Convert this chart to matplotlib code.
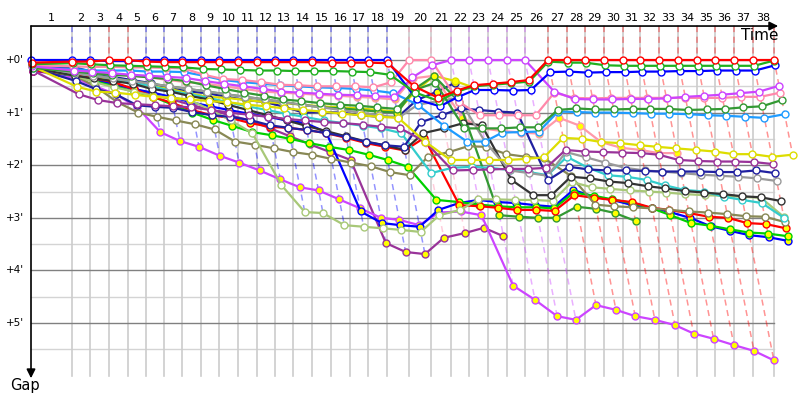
import numpy as np
import matplotlib.pyplot as plt

# leader's cumulative race time at the end of each lap (minutes), index 0 = start
leader_time = [0.00, 3.98, 5.73, 7.57, 9.42, 11.17, 12.91, 14.66, 16.50, 18.25,
               20.10, 21.94, 23.69, 25.44, 27.28, 29.13, 30.97, 32.72, 34.56, 36.70,
               38.83, 40.78, 42.52, 44.37, 46.21, 47.96, 50.19, 52.04, 53.79, 55.63,
               57.48, 59.13, 60.97, 62.82, 64.66, 66.41, 68.25, 70.10, 72.14]
laps = list(range(1, 39))
gap_ticks = [0, 1, 2, 3, 4, 5]

# gap to the leader (minutes) at the end of every lap, laps 0..38, None = no lap
red_w = [0.05, 0.03, 0.03, 0.00, 0.00, 0.03, 0.04, 0.04, 0.04, 0.04, 0.04, 0.04, 0.04, 0.04, 0.04, 0.05, 0.05, 0.05, 0.06,
         0.50, 0.72, 0.58, 0.48, 0.45, 0.42, 0.38,
         0.00, 0.00, 0.00, 0.00, 0.00, 0.00, 0.00, 0.00, 0.00, 0.00, 0.00, 0.00, 0.00]
green_w = [0.08, 0.06, 0.08, 0.10, 0.11, 0.12, 0.13, 0.14, 0.17, 0.18, 0.19, 0.20, 0.20, 0.21, 0.21, 0.21, 0.22, 0.23, 0.28,
           0.62, 0.78, 0.60, 0.50, 0.47, 0.44, 0.41,
           0.03, 0.05, 0.05, 0.10, 0.11, 0.11, 0.11, 0.11, 0.11, 0.11, 0.11, 0.11, 0.01]
blue_w = [0.00, 0.00, 0.00, 0.02, 0.02, 0.00, 0.00, 0.00, 0.00, 0.00, 0.00, 0.00, 0.00, 0.00, 0.00, 0.00, 0.00, 0.00, 0.00,
          0.75, 0.88, 0.70, 0.57, 0.57, 0.58, 0.57,
          0.23, 0.22, 0.24, 0.23, 0.23, 0.22, 0.22, 0.21, 0.21, 0.20, 0.20, 0.20, 0.10]
pink_w = [0.10, 0.12, 0.13, 0.13, 0.14, 0.14, 0.15, 0.16, 0.28, 0.36, 0.38, 0.42, 0.47, 0.48, 0.50, 0.50, 0.50, 0.52, 0.42,
          0.00, 0.00, 0.80, 1.05, 1.05, 1.05, 1.05,
          0.62, 0.72, 0.73, 0.72, 0.72, 0.72, 0.72, 0.72, 0.72, 0.72, 0.70, 0.70, 0.62]
violet_w = [0.12, 0.20, 0.22, 0.25, 0.28, 0.30, 0.32, 0.34, 0.40, 0.45, 0.50, 0.55, 0.60, 0.62, 0.64, 0.66, 0.67, 0.69, 0.70,
            0.33, 0.10, 0.00, 0.00, 0.00, 0.00, 0.00,
            0.60, 0.74, 0.75, 0.75, 0.74, 0.74, 0.73, 0.70, 0.68, 0.66, 0.63, 0.60, 0.49]
azure_w = [0.15, 0.17, 0.20, 0.20, 0.20, 0.22, 0.22, 0.23, 0.30, 0.38, 0.42, 0.45, 0.48, 0.50, 0.52, 0.53, 0.55, 0.58, 0.63,
           0.85, 1.25, 1.55, 1.55, 1.38, 1.37, 1.36,
           0.98, 0.99, 1.00, 1.00, 1.01, 1.02, 1.02, 1.03, 1.05, 1.06, 1.08, 1.10, 1.03]
dkgreen_w = [0.15, 0.22, 0.25, 0.28, 0.30, 0.33, 0.36, 0.40, 0.48, 0.55, 0.62, 0.68, 0.75, 0.78, 0.82, 0.85, 0.87, 0.90, 0.93,
             0.57, 0.43, 1.30, 1.30, 1.30, 1.28, 1.28,
             0.95, 0.92, 0.94, 0.94, 0.93, 0.93, 0.93, 0.95, 0.94, 0.93, 0.90, 0.88, 0.76]
navy_w = [0.15, 0.40, 0.55, 0.65, 0.86, 0.89, 0.91, 0.99, 1.05, 1.08, 1.14, 1.24, 1.29, 1.33, 1.39, 1.46, 1.56, 1.62, 1.65,
          1.18, 1.05, 0.92, 0.95, 0.98, 1.00, 2.28,
          2.03, 2.08, 2.10, 2.10, 2.11, 2.12, 2.12, 2.12, 2.13, 2.13, 2.10, 2.15, None]
yellow_w = [0.12, 0.51, 0.60, 0.62, 0.66, 0.70, 0.72, 0.75, 0.78, 0.80, 0.85, 0.88, 0.92, 0.95, 0.98, 1.02, 1.05, 1.08, 1.10,
            1.55, 1.90, 1.90, 1.90, 1.90, 1.88, 1.85,
            1.48, 1.50, 1.56, 1.58, 1.62, 1.65, 1.68, 1.71, 1.74, 1.79, 1.79, 1.84, 1.80]
purple_w = [0.20, 0.65, 0.76, 0.82, 0.84, 0.86, 0.88, 0.90, 0.95, 1.00, 1.04, 1.08, 1.12, 1.15, 1.18, 1.20, 1.23, 1.27, 1.30,
            1.55, 2.10, 2.09, 2.08, 2.07, 2.07, 2.05,
            1.71, 1.74, 1.75, 1.76, 1.77, 1.80, 1.90, 1.92, 1.93, 1.93, 1.94, 1.98, None]
grey_w = [0.12, 0.25, 0.30, 0.35, 0.40, 0.45, 0.50, 0.55, 0.60, 0.65, 0.70, 0.75, 0.80, 0.85, 0.90, 0.95, 1.00, 1.05, 1.10,
          0.85, 0.78, 0.72, 1.55, 2.10, 2.15, 2.20,
          1.75, 1.85, 1.95, 2.05, 2.10, 2.12, 2.15, 2.18, 2.20, 2.22, 2.25, 2.30, None]
cyan_w = [0.12, 0.25, 0.30, 0.35, 0.42, 0.50, 0.58, 0.65, 0.72, 0.80, 0.88, 0.95, 1.02, 1.08, 1.15, 1.20, 1.25, 1.30, 1.39,
          2.15, 2.05, 2.03, 2.05, 2.09, 2.13, 2.19,
          1.84, 2.05, 2.19, 2.22, 2.28, 2.38, 2.47, 2.50, 2.60, 2.66, 2.72, 3.00, None]
black_w = [0.15, 0.30, 0.35, 0.40, 0.45, 0.55, 0.60, 0.68, 0.75, 0.85, 0.95, 1.05, 1.15, 1.25, 1.35, 1.45, 1.55, 1.62, 1.71,
           1.39, 1.30, 1.20, 1.24, 2.28, 2.57, 2.57,
           2.22, 2.25, 2.31, 2.34, 2.40, 2.44, 2.49, 2.52, 2.55, 2.59, 2.61, 2.68, None]
olive_w = [0.15, 0.30, 0.50, 0.80, 1.00, 1.08, 1.15, 1.22, 1.32, 1.55, 1.61, 1.68, 1.75, 1.80, 1.88, 1.95, 2.02, 2.13, 2.19,
           1.84, 1.75, 1.64, 1.65, 1.79, 1.84, 1.87,
           2.20, 2.75, 2.78, 2.80, 2.82, 2.85, 2.88, 2.90, 2.93, 2.97, 2.98, 3.08, None]
lightgreen_w = [0.15, 0.30, 0.42, 0.52, 0.60, 0.68, 0.72, 0.76, 0.95, 1.15, 1.39, 2.38, 2.89, 2.91, 3.14, 3.17, 3.20, 3.23, 3.27,
                2.95, 2.85, 2.65, 2.65, 2.66, 2.66, 2.68,
                2.32, 2.42, 2.45, 2.48, 2.50, 2.52, 2.55, 2.57, 2.58, 2.60, 2.62, 2.98, None]
blue_y = [0.20, 0.30, 0.38, 0.45, 0.55, 0.62, 0.70, 0.80, 0.88, 0.95, 1.02, 1.08, 1.15, 1.20, 1.37, 2.88, 3.10, 3.14, 3.17,
          2.85, 2.72, 2.66, 2.70, 2.72, 2.76, 2.79,
          2.47, 2.60, 2.66, 2.76, 2.81, 2.89, 3.00, 3.16, 3.25, 3.33, 3.37, 3.44, None]
red_y = [0.20, 0.28, 0.35, 0.42, 0.55, 0.70, 0.82, 0.95, 1.05, 1.10, 1.20, 1.27, 1.29, 1.33, 1.39, 1.48, 1.58, 1.65, 1.72,
         1.48, 2.76, 2.78, 2.81, 2.85, 2.85, 2.87,
         2.57, 2.62, 2.66, 2.70, 2.81, 2.85, 2.91, 2.98, 3.00, 3.10, 3.12, 3.20, None]
green_y = [0.18, 0.30, 0.40, 0.50, 0.60, 0.70, 0.85, 1.00, 1.14, 1.25, 1.37, 1.43, 1.50, 1.58, 1.65, 1.71, 1.80, 1.90, 2.03,
           2.66, 2.70, 2.75, 2.78, 2.80, 2.80, 2.82,
           2.52, 2.58, 2.65, 2.72, 2.82, 2.95, 3.10, 3.15, 3.22, 3.28, 3.30, 3.35, None]
dkgreen_y = [0.15, 0.22, 0.28, 0.35, 0.40, 0.45, 0.50, 0.55, 0.60, 0.65, 0.70, 0.75, 0.80, 0.85, 0.90, 0.92, 0.95, 0.98, 1.00,
             0.55, 0.30, 0.80, 2.95, 2.98, 3.00, 3.00,
             2.79, 2.83, 2.91, 3.06] + [None] * 9
pink_y = [0.15, 0.20, 0.25, 0.28, 0.30, 0.33, 0.38, 0.42, 0.45, 0.50, 0.55, 0.60, 0.62, 0.64, 0.66, 0.68, 0.70, 0.72, 0.75,
          0.35, 0.30, 1.10, 1.30, 1.35, 1.38, 1.40,
          1.10, 1.25, 1.56, 1.67, 1.71, 1.77, 1.77] + [None] * 6
violet_y = [0.20, 0.35, 0.50, 0.65, 0.90, 1.37, 1.54, 1.65, 1.82, 1.95, 2.10, 2.27, 2.42, 2.48, 2.65, 2.82, 3.00, 3.04, 3.14,
            2.90, 2.88, 2.95, 4.29, 4.56, 4.87, 4.94,
            4.66, 4.75, 4.87, 4.94, 5.04, 5.20, 5.30, 5.42, 5.53, 5.71, None, None, None]
purple_y = [0.18, 0.30, 0.40, 0.48, 0.55, 0.65, 0.75, 0.85, 0.95, 1.05, 1.15, 1.30, 1.45, 1.60, 1.75, 1.90, 3.48, 3.65, 3.69,
            3.38, 3.29, 3.19, 3.35] + [None] * 16
yellow_y = [0.15, 0.25, 0.32, 0.38, 0.44, 0.50, 0.55, 0.63, 0.70, 0.72, 0.76, 0.80, 0.82, 0.85, 0.88, 0.90, 0.92, 0.95, 0.98,
            0.60, 0.30, 0.40, 0.53] + [None] * 16
navy_y = [0.15, 0.13, 0.23, 0.32, 0.38, 0.44, 0.53, 0.60, 0.63, 0.70, 0.76, 0.80, 0.89, 1.00, 0.99, 1.00, 1.05, 1.08, 1.08,
          0.76, 0.60, 0.43] + [None] * 17

# (gaps, line colour, marker fill), front runners first
drivers = [
    (red_w, '#ff0000', 'white'), (green_w, '#20b020', 'white'), (blue_w, '#0000ff', 'white'),
    (violet_w, '#cc44ff', 'white'), (pink_w, '#ff88aa', 'white'), (dkgreen_w, '#339933', 'white'),
    (azure_w, '#1e9bff', 'white'), (yellow_w, '#dddd00', 'white'), (purple_w, '#993399', 'white'),
    (navy_w, '#2020a0', 'white'), (grey_w, '#9a9a9a', 'white'), (black_w, '#333333', 'white'),
    (cyan_w, '#33cccc', 'white'), (lightgreen_w, '#a8c878', 'white'), (olive_w, '#888855', 'white'),
    (red_y, '#ff0000', '#ffff00'), (green_y, '#00d000', '#ffff00'), (blue_y, '#0000ff', '#ffff00'),
    (dkgreen_y, '#339933', '#ffff00'), (pink_y, '#ff99aa', '#ffff00'), (violet_y, '#cc44ff', '#ffff00'),
    (purple_y, '#993399', '#ffff00'), (yellow_y, '#dddd00', '#ffff00'), (navy_y, '#2020a0', '#ffff00'),
]

fig = plt.figure(figsize=(8, 4), dpi=100)
ax = fig.add_axes([0, 0, 1, 1])
ax.set_xlim(-3.01, 74.66)
ax.set_ylim(6.464, -1.141)
ax.axis('off')

top = -0.646
bottom = 6.0
t_end = leader_time[-1]
lead_t = np.array(leader_time)

# grid
for g in np.arange(0.5, 6, 1.0):
    ax.plot([0, t_end], [g, g], color='#d4d4d4', lw=1, zorder=1)
for g in gap_ticks:
    ax.plot([0, t_end], [g, g], color='#808080', lw=1, zorder=1.5)
    ax.text(-1.6, g, f"+{g}'", ha='center', va='center', fontsize=7.5)
for t in leader_time[1:]:
    ax.plot([t, t], [top, bottom], color='#cccccc', lw=1.2, zorder=1)

# lap labels centred on each lap span
for k in laps:
    ax.text((leader_time[k - 1] + leader_time[k]) / 2, -0.8, str(k),
            ha='center', va='center', fontsize=8)

# lap lines: every driver's lap-k crossing lies on x = leader_time[k] + gap
G = np.array([d[0] for d in drivers], dtype=float)
for k in laps:
    col = G[:, k]
    lead = int(np.nanargmin(col))
    gmax = np.nanmax(col)
    t = leader_time[k]
    ax.plot([t, t, t + gmax], [top, 0, gmax], color=drivers[lead][1], alpha=0.42,
            lw=1.1, ls=(0, (4, 3)), zorder=2)

# driver traces
for i, (gaps, color, fill) in enumerate(reversed(drivers)):
    g = np.array(gaps, dtype=float)
    ax.plot(lead_t + g, g, color=color, lw=1.6, marker='o', ms=5,
            mfc=fill, mec=color, mew=1, zorder=3 + i * 0.01)

# axes with arrows
arrow = dict(arrowstyle='-|>', color='black', lw=1.2, mutation_scale=13, shrinkA=0, shrinkB=0)
ax.annotate('', xy=(t_end + 0.4, top), xytext=(0, top), arrowprops=arrow, zorder=5)
ax.annotate('', xy=(0, 6.05), xytext=(0, top), arrowprops=arrow, zorder=5)
ax.text(t_end - 1.4, -0.475, 'Time', ha='center', va='center', fontsize=11)
ax.text(-0.58, 6.18, 'Gap', ha='center', va='center', fontsize=10.5)

fig.savefig('out.png', dpi=100)
